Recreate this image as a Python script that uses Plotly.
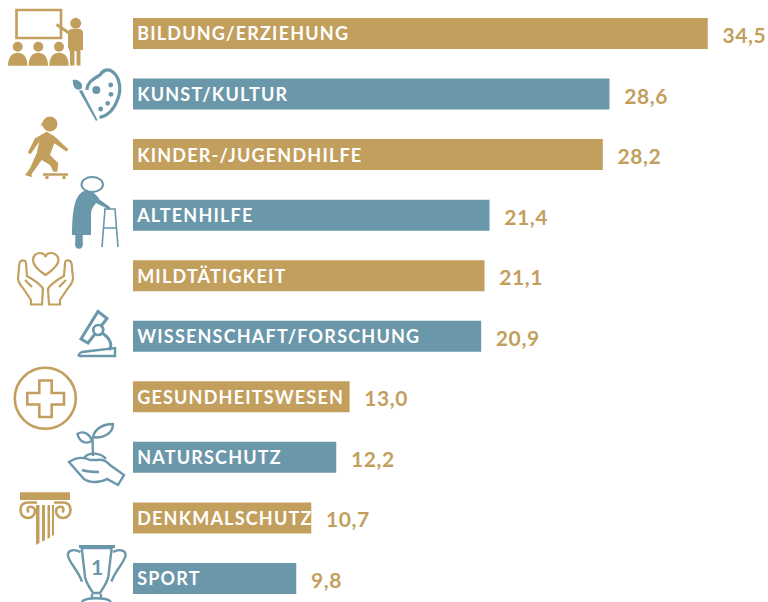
import re
import plotly.graph_objects as go

categories = ["BILDUNG/ERZIEHUNG", "KUNST/KULTUR", "KINDER-/JUGENDHILFE", "ALTENHILFE", "MILDTÄTIGKEIT",
              "WISSENSCHAFT/FORSCHUNG", "GESUNDHEITSWESEN", "NATURSCHUTZ", "DENKMALSCHUTZ", "SPORT"]
values = [34.5, 28.6, 28.2, 21.4, 21.1, 20.9, 13.0, 12.2, 10.7, 9.8]
value_labels = ["34,5", "28,6", "28,2", "21,4", "21,1", "20,9", "13,0", "12,2", "10,7", "9,8"]

GOLD = "#C39F5E"
BLUE = "#6A97A9"
W, H = 768, 602
PX_PER_UNIT = 16.66
ROW = 60.55
FIRST = 33.5
colors = [GOLD if i % 2 == 0 else BLUE for i in range(len(values))]
idx = list(range(len(values)))


def conv(path):
    """pixel path -> paper path"""
    out, k = [], 0
    for tok in re.findall(r"[MLCQZ]|-?\d+\.?\d*", path):
        if tok in "MLCQZ":
            out.append(tok)
        else:
            v = float(tok)
            out.append(f"{v / W:.5f}" if k % 2 == 0 else f"{1 - v / H:.5f}")
            k += 1
    return " ".join(out)


shapes = []


def stroke(path, color, w=2.0, fill=None):
    shapes.append(dict(type="path", xref="paper", yref="paper", path=conv(path),
                       line=dict(color=color, width=w),
                       fillcolor=fill if fill else "rgba(0,0,0,0)", layer="above"))


def solid(path, color):
    shapes.append(dict(type="path", xref="paper", yref="paper", path=conv(path),
                       line=dict(width=0), fillcolor=color, layer="above"))


def circ(cx, cy, r, color, w=0, fill=None):
    shapes.append(dict(type="circle", xref="paper", yref="paper",
                       x0=(cx - r) / W, x1=(cx + r) / W, y0=1 - (cy + r) / H, y1=1 - (cy - r) / H,
                       line=dict(color=color, width=w), fillcolor=fill if fill else "rgba(0,0,0,0)",
                       layer="above"))


# --- teacher
stroke("M16.5,10 L61,10 L61,38 L16.5,38 Z", GOLD, 2.6)
for c in (17.7, 38.3, 59):
    circ(c, 46.7, 5, GOLD, 0, GOLD)
    solid(f"M{c-9.7},65.7 C{c-9.7},56 {c-5},52.7 {c},52.7 C{c+5},52.7 {c+9.7},56 {c+9.7},65.7 Z", GOLD)
circ(75.7, 23.3, 5.5, GOLD, 0, GOLD)
solid("M68,34 Q68,29 72,29 L79,29 Q83,29 83,33 L83,50 L80.5,50 L80.5,65.5 L76.5,65.5 L76.5,51 L74.5,51 L74.5,65.5 L70,65.5 L70,52 L68,47 Z", GOLD)
stroke("M56.5,24.5 L69,33", GOLD, 3)
# --- palette
stroke("M87,90 C87,82 95,78 100,75 C103,70 108,68 113,72 C120,78 122,90 117,101 C113,111 107,116 99.5,117.5", BLUE, 3.2)
circ(96.3, 90, 4, BLUE, 0, BLUE)
for cx, cy in ((110.7, 85), (111, 94.3), (107.7, 103.3), (100.7, 109)):
    circ(cx, cy, 2.4, BLUE, 0, BLUE)
solid("M72.7,80 C76,79 81,81 82,85 C83,89 79,91 76,89 C73,87 73,83 72.7,80 Z", BLUE)
solid("M79,91 L82,90 L97.5,120 L96,121 Z", BLUE)
# --- skater
circ(50, 124, 7.5, GOLD, 0, GOLD)
solid("M44,120 L40.5,125.5 L48,126 Z", GOLD)
solid("M46.7,131.7 L55,136.7 L68.3,149.3 L66.7,151.7 L54.3,143.3 L50,155 L58.3,163.3 L57.3,171.7 L53.3,171.7 L50,165 L41.7,160 L31.7,174 L31.7,177.3 L25,175 L30,168.3 L36.7,153.3 L39.3,141.7 L30.7,154 L27.7,152.7 L35,138.3 Z", GOLD)
stroke("M43,174.5 L68,174.5", GOLD, 2.5)
circ(47, 177.5, 1.8, GOLD, 0, GOLD)
circ(64, 177.5, 1.8, GOLD, 0, GOLD)
# --- elderly
solid("M84,191 C76,195 72,205 72,235 L91,235 L91,214 C91,208 95,205 96,203 L110,210 L110,207 L100,200 C97,195 90,188 84,191 Z", BLUE)
stroke("M79,235 L79,245", BLUE, 7.5)
circ(79, 245, 3.7, BLUE, 0, BLUE)
shapes.append(dict(type="circle", xref="paper", yref="paper", x0=81.5 / W, x1=103 / W, y0=1 - 192 / H, y1=1 - 177 / H,
                   line=dict(color=BLUE, width=2), fillcolor="white", layer="above"))
stroke("M104,209 L115,209 L118,247 M105,209 L102,247 M103,228 L116,228", BLUE, 1.6)
# --- caring hands with heart
stroke("M45.5,275 C38,270 33,265 33,260 C33,255 37,253 40,253 C43,253 45,255 45.5,257 C46,255 48,253 51,253 C55,253 58.5,256 58.5,260 C58.5,265 53,270 45.5,275 Z", GOLD, 2.2)
stroke("M31,304.5 L42,304.5 L43,289 C41,284 34,280 27,276 L26,263 C26,260 23,260 21,261 C19,262 19,265 19,268 L18,278 C18,284 22,286 25,291 L31,300 Z M25,280 L32,287", GOLD, 2.2)
stroke("M60,304.5 L49,304.5 L48,289 C50,284 57,280 64,276 L65,263 C65,260 68,260 70,261 C72,262 72,265 72,268 L73,278 C73,284 69,286 66,291 L60,300 Z M66,280 L59,287", GOLD, 2.2)
# --- microscope
stroke("M80,356 L115,356 L115,348 L82,352 C78,354 78,356 80,356 Z", BLUE, 2.4)
stroke("M98,311.5 L107,318.5 L88,343 L81,339 Z", BLUE, 3)
stroke("M102,333 C110,338 113,345 109,350", BLUE, 3)
circ(98.3, 330, 5, BLUE, 2.6, "white")
# --- medical cross
circ(45.3, 398.3, 30.5, GOLD, 2.6)
stroke("M39.3,380.5 L51.7,380.5 L51.7,393 L64,393 L64,404.5 L51.7,404.5 L51.7,417 L39.3,417 L39.3,404.5 L27.3,404.5 L27.3,393 L39.3,393 Z", GOLD, 2.6)
# --- plant in hand
stroke("M69,462 C75,458 82,456 90,460 L97,460 C104,459 107,462 110,465 L124,475 L118,485 L107,479 C100,483 90,483 84,479 Z M82,470 C88,472 93,472 99,472", BLUE, 2.4)
stroke("M84,458 C88,452 100,452 106,459 M93,456 L92.5,438", BLUE, 2.4)
stroke("M77.5,434 C83,430 90,434 92,441 C85,445 79,441 77.5,434 Z", BLUE, 2.4)
stroke("M113,424 C104,424 95,428 93,437 C102,439 113,434 113,424 Z", BLUE, 2.4)
# --- column
solid("M20,492.3 L70,492.3 L70,500 L20,500 Z", GOLD)
solid("M36,505 L39.5,505 L39.5,543 L36,545 Z M42,505 L45,505 L45,540.5 L42,541.5 Z M47.5,505 L50,505 L50,538 L47.5,538.5 Z M52,505 L54,505 L54,535 L52,536 Z", GOLD)
stroke("M37,502.5 L28,502.5 C22,502.5 20.5,506 20.5,510 C20.5,515 24,518 28,518 C32,518 35,515 35,511 C35,508 32,506 29,507 C27,508 27,511 29,512", GOLD, 2.6)
stroke("M54,502.5 L63,502.5 C69,502.5 70.5,506 70.5,510 C70.5,515 67,518 63,518 C59,518 56,515 56,511 C56,508 59,506 62,507 C64,508 64,511 62,512", GOLD, 2.6)
# --- trophy
stroke("M79,546.5 L115,546.5", BLUE, 3)
stroke("M81.7,548 L111.7,548 L108.3,576.7 C107,583 103,588 100,593 L93,593 C90,588 86,583 85,576.7 Z", BLUE, 2.4)
stroke("M80.5,552 C73,548 67,551 68,556 C70,564 78,570 82,581.7", BLUE, 2.4)
stroke("M112.9,552 C120.4,548 126.4,551 125.4,556 C123.4,564 115.4,570 111.4,581.7", BLUE, 2.4)
stroke("M92,594 L92,598 M101,594 L101,598 M82,602 C84,597 108,597 111,602", BLUE, 2.4)

fig = go.Figure()
fig.add_bar(y=idx, x=values, orientation="h", marker=dict(color=colors, line=dict(width=0)),
            width=31 / ROW, hoverinfo="skip")
fig.add_scatter(y=[i + 0.04 for i in idx], x=[0.25] * len(idx), mode="text", text=categories,
                textposition="middle right", cliponaxis=False,
                textfont=dict(family="Lato", size=18, color="white", weight="bold"), hoverinfo="skip")
fig.add_scatter(y=[i + 0.07 for i in idx], x=[v + 0.88 for v in values], mode="text", text=value_labels,
                textposition="middle right", cliponaxis=False,
                textfont=dict(family="Lato", size=21, color=GOLD, weight="bold"), hoverinfo="skip")

fig.update_layout(
    width=W, height=H, margin=dict(l=0, r=0, t=0, b=0), showlegend=False,
    paper_bgcolor="white", plot_bgcolor="white", shapes=shapes,
    annotations=[dict(text="1", xref="paper", yref="paper", x=96.5 / W, y=1 - 566.5 / H, showarrow=False,
                      xanchor="center", yanchor="middle",
                      font=dict(family="Lato", size=21, color=BLUE, weight="bold"))],
    xaxis=dict(range=[-133 / PX_PER_UNIT, (W - 133) / PX_PER_UNIT], visible=False),
    yaxis=dict(range=[(H - FIRST) / ROW, -FIRST / ROW], visible=False),
)
post = """
document.body.style.margin='0';document.documentElement.style.overflow='hidden';
document.querySelectorAll('.textpoint text').forEach(function(t){
  t.style.letterSpacing = /[A-Z]/.test(t.textContent) ? '1.2px' : '0.6px';
});
"""
fig.write_html("out.html", post_script=post, config={"displayModeBar": False})
